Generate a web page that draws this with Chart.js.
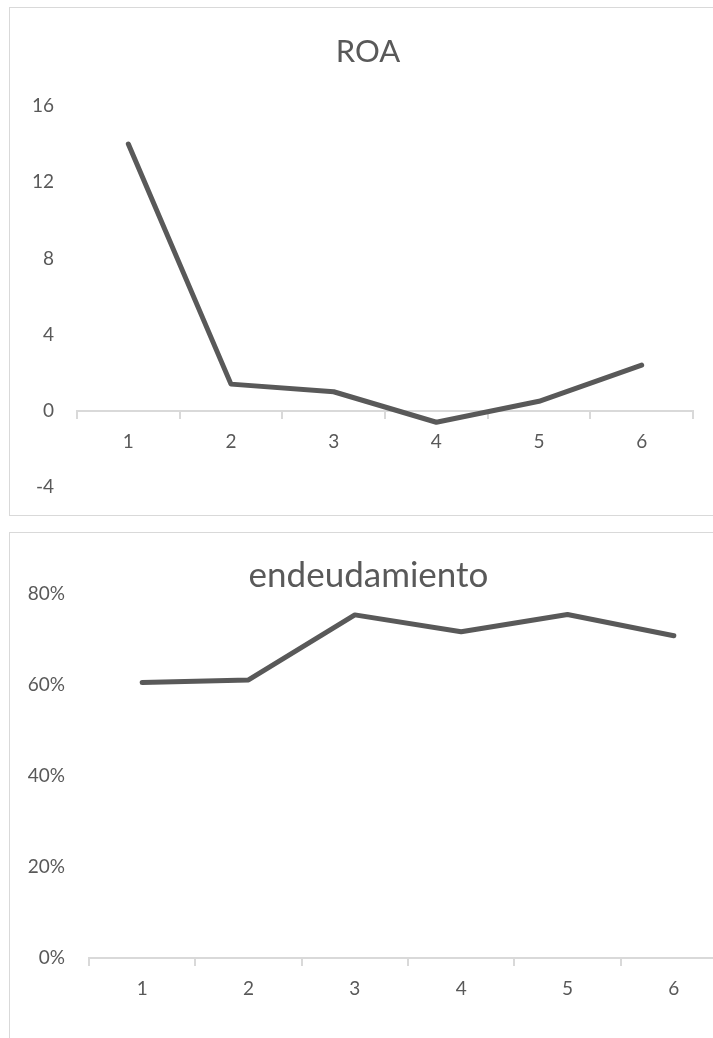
<!DOCTYPE html>
<html>
<head>
<meta charset="utf-8">
<script src="https://cdn.jsdelivr.net/npm/chart.js@4.4.0/dist/chart.umd.min.js"></script>
<style>
  html, body { margin: 0; padding: 0; background: #fff; overflow: hidden; width: 713px; height: 1038px; }
  .box { position: absolute; border: 1px solid #d9d9d9; border-right: none; }
  #roaBox { left: 9px; top: 7px; width: 760px; height: 507px; }
  #debtBox { left: 9px; top: 532px; width: 760px; height: 520px; border-bottom: none; }
  canvas { display: block; }
</style>
</head>
<body>
<div class="box" id="roaBox"><canvas id="roaChart" width="716" height="530"></canvas></div>
<div class="box" id="debtBox"><canvas id="debtChart" width="730" height="505"></canvas></div>
<script>
// Periods on the x axis
const periods = ['1', '2', '3', '4', '5', '6'];

// ROA per period
const roaValues = [14.0, 1.4, 1.0, -0.6, 0.5, 2.4];
const roaAxis = { min: -4, max: 16, step: 4 };

// Debt ratio per period (fraction)
const debtValues = [0.605, 0.611, 0.754, 0.717, 0.755, 0.708];
const debtAxis = { min: 0, max: 0.8, step: 0.2 };

const textColor = '#595959';
const lineColor = '#595959';
const axisColor = '#d9d9d9';
const font = 'Lato';
const tickSize = 19;

function makeChart(id, title, values, axis, o) {
    const ctx = document.getElementById(id).getContext('2d');
    return new Chart(ctx, {
        type: 'line',
        data: {
            labels: periods,
            datasets: [{
                data: values,
                borderColor: lineColor,
                borderWidth: 5,
                borderCapStyle: 'round',
                borderJoinStyle: 'round',
                pointRadius: 0,
                tension: 0,
                clip: false
            }]
        },
        options: {
            responsive: false,
            animation: false,
            layout: { padding: o.padding },
            plugins: {
                legend: { display: false },
                tooltip: { enabled: false },
                title: {
                    display: true,
                    text: title,
                    color: textColor,
                    font: { family: font, size: o.titleSize, weight: 'normal', lineHeight: o.titleLine },
                    padding: o.titlePadding
                }
            },
            scales: {
                x: {
                    type: 'category',
                    offset: true,
                    position: { y: 0 },
                    grid: {
                        offset: true,
                        drawOnChartArea: false,
                        drawTicks: true,
                        tickLength: 7,
                        color: axisColor,
                        lineWidth: 2
                    },
                    border: { display: true, color: axisColor, width: 2 },
                    ticks: {
                        color: textColor,
                        font: { family: font, size: tickSize },
                        padding: 13,
                        maxRotation: 0
                    }
                },
                y: {
                    min: axis.min,
                    max: axis.max,
                    grid: { display: false, drawTicks: false },
                    border: { display: false },
                    ticks: {
                        stepSize: axis.step,
                        color: textColor,
                        font: { family: font, size: tickSize },
                        padding: o.tickPad,
                        callback: o.format
                    },
                    afterFit: scale => { scale.width = o.axisWidth; }
                },
                // empty strip on the right, keeps the title centred where it belongs
                spacer: {
                    axis: 'y',
                    position: 'right',
                    display: o.spacer > 0,
                    grid: { display: false, drawTicks: false },
                    border: { display: false },
                    ticks: { display: false },
                    afterFit: scale => { scale.width = o.spacer; }
                }
            }
        }
    });
}

makeChart('roaChart', 'ROA', roaValues, roaAxis, {
    padding: { left: 0, right: 0, top: 0, bottom: 51 },
    titleSize: 31,
    titleLine: 1.2,
    titlePadding: { top: 25, bottom: 35.8 },
    axisWidth: 67,
    spacer: 33,
    tickPad: 23,
    format: v => String(v)
});

makeChart('debtChart', 'endeudamiento', debtValues, debtAxis, {
    padding: { left: 0, right: 13, top: 0, bottom: 80.5 },
    titleSize: 35,
    titleLine: 1.0,
    titlePadding: { top: 25.5, bottom: 0.5 },
    axisWidth: 79,
    spacer: 0,
    tickPad: 24,
    format: v => Math.round(v * 100) + '%'
});
</script>
</body>
</html>
